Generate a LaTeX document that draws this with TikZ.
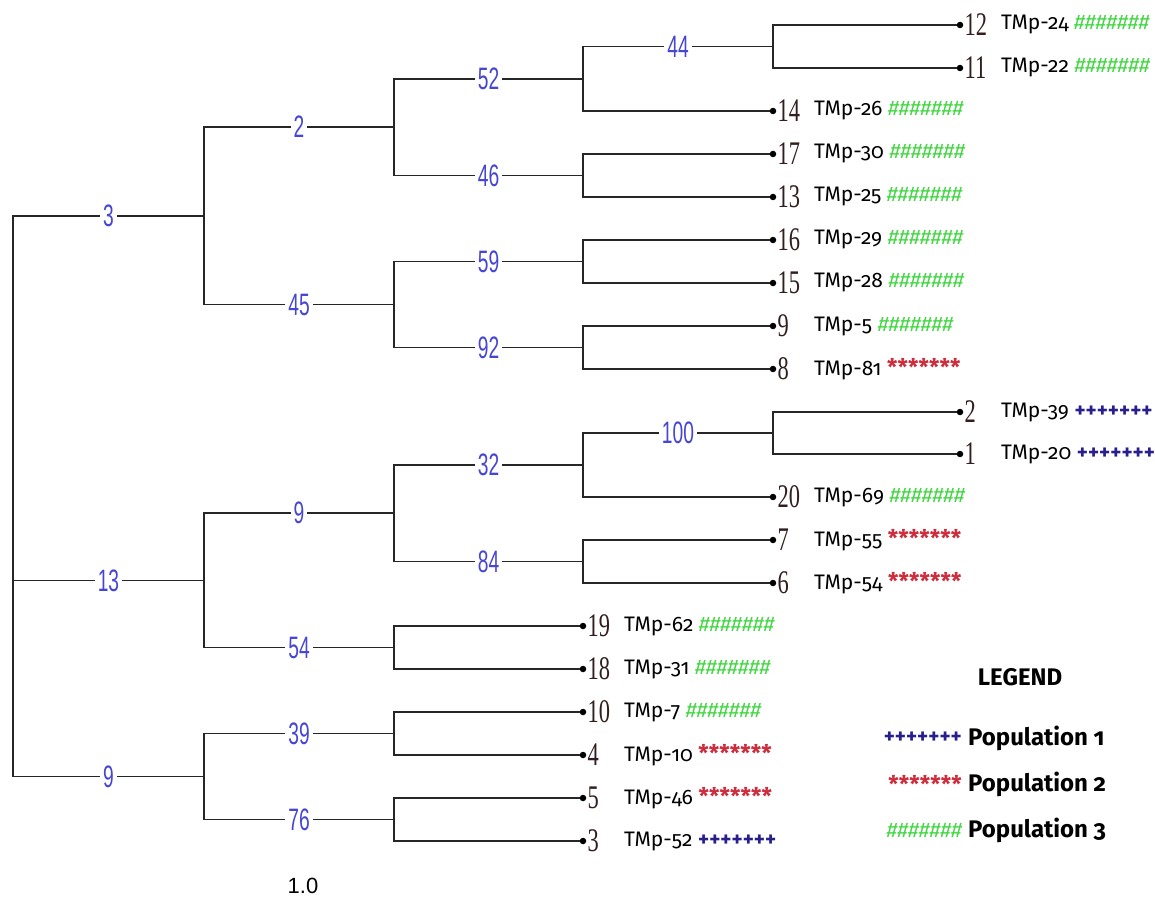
\documentclass[tikz,border=0pt]{standalone}
\usepackage{fontspec}
\setmainfont{Fira Sans}[Numbers=OldStyle]
\newfontfamily\numfont{Liberation Serif}
\newfontfamily\labfont{Liberation Sans}
\usetikzlibrary{positioning}

\definecolor{brblue}{RGB}{70,70,210}
\definecolor{leafbrown}{RGB}{50,30,30}
\definecolor{popblue}{RGB}{40,30,140}
\definecolor{popred}{RGB}{205,45,60}
\definecolor{popgreen}{RGB}{70,215,70}

\newcommand\plusrow{\textcolor{popblue}{\fontseries{sb}\selectfont+++++++}}
\newcommand\starrow{\textcolor{popred}{\bfseries\fontsize{23}{23}\selectfont*******}}
\newcommand\hashrow{\textcolor{popgreen}{\itshape\#\#\#\#\#\#\#}}
\newcommand\brlab[1]{\scalebox{0.62}[1]{#1}}

\tikzset{
  branch/.style={draw=black!85,line width=1.8pt},
  blab/.style={pos=.75,fill=white,text=brblue,inner sep=0pt,inner xsep=3pt,
    font=\labfont\fontsize{31}{31}\selectfont},
  leafdot/.style={circle,fill=black,inner sep=0pt,minimum size=6.5pt},
  leafnum/.style={inner sep=0pt,text=leafbrown,font=\numfont\fontsize{33}{33}\selectfont},
  tmplab/.style={anchor=west,inner sep=0pt,font=\fontsize{21}{21}\selectfont},
}

\begin{document}
\begin{tikzpicture}[x=1pt,y=-1pt]
\useasboundingbox (0,0) rectangle (1155,901);
% inner nodes of the tree
\coordinate (root) at (13,580);
\coordinate (c3) at (204,215.8);
\coordinate (c2) at (394,127.1);
\coordinate (c52) at (583,78.75);
\coordinate (c44) at (773,46.5);
\coordinate (c46) at (583,175.5);
\coordinate (c45) at (394,304.5);
\coordinate (c59) at (583,261.5);
\coordinate (c92) at (583,347.5);
\coordinate (c13) at (204,580.4);
\coordinate (c9a) at (394,513.25);
\coordinate (c32) at (583,465);
\coordinate (c100) at (773,433);
\coordinate (c84) at (583,561.5);
\coordinate (c54) at (394,647.5);
\coordinate (c9b) at (204,776.5);
\coordinate (c39) at (394,733.5);
\coordinate (c76) at (394,819.5);

% leaves
\foreach \lf/\lx/\ly/\txt/\pop in {
  12/960/25/TMp-24/\hashrow, 11/960/68/TMp-22/\hashrow,
  14/773/111/TMp-26/\hashrow, 17/773/154/TMp-30/\hashrow,
  13/773/197/TMp-25/\hashrow, 16/773/240/TMp-29/\hashrow,
  15/773/283/TMp-28/\hashrow, 9/773/326/TMp-5/\hashrow,
  8/773/369/TMp-81/\starrow, 2/960/412/TMp-39/\plusrow,
  1/960/454/TMp-20/\plusrow, 20/773/497/TMp-69/\hashrow,
  7/773/540/TMp-55/\starrow, 6/773/583/TMp-54/\starrow,
  19/583/626/TMp-62/\hashrow, 18/583/669/TMp-31/\hashrow,
  10/583/712/TMp-7/\hashrow, 4/583/755/TMp-10/\starrow,
  5/583/798/TMp-46/\starrow, 3/583/841/TMp-52/\plusrow}{
  \node[leafdot] (t\lf) at (\lx,\ly) {};
  \node[leafnum,right=1pt of t\lf] (n\lf) {\scalebox{0.68}[1]{\lf}};
  \node[tmplab] (m\lf) at ([xshift=41pt]t\lf.center) {\txt\ \pop};
}

% branches
\draw[branch] (root) |- node[blab] (b3) {\brlab{3}} (c3);
\draw[branch] (root) |- node[blab] (b13) {\brlab{13}} (c13);
\draw[branch] (root) |- node[blab] (b9b) {\brlab{9}} (c9b);
\draw[branch] (c3) |- node[blab] (b2) {\brlab{2}} (c2);
\draw[branch] (c3) |- node[blab] (b45) {\brlab{45}} (c45);
\draw[branch] (c2) |- node[blab] (b52) {\brlab{52}} (c52);
\draw[branch] (c2) |- node[blab] (b46) {\brlab{46}} (c46);
\draw[branch] (c52) |- node[blab] (b44) {\brlab{44}} (c44);
\draw[branch] (c52) |- (t14);
\draw[branch] (c44) |- (t12);
\draw[branch] (c44) |- (t11);
\draw[branch] (c46) |- (t17);
\draw[branch] (c46) |- (t13);
\draw[branch] (c45) |- node[blab] (b59) {\brlab{59}} (c59);
\draw[branch] (c45) |- node[blab] (b92) {\brlab{92}} (c92);
\draw[branch] (c59) |- (t16);
\draw[branch] (c59) |- (t15);
\draw[branch] (c92) |- (t9);
\draw[branch] (c92) |- (t8);
\draw[branch] (c13) |- node[blab] (b9a) {\brlab{9}} (c9a);
\draw[branch] (c13) |- node[blab] (b54) {\brlab{54}} (c54);
\draw[branch] (c9a) |- node[blab] (b32) {\brlab{32}} (c32);
\draw[branch] (c9a) |- node[blab] (b84) {\brlab{84}} (c84);
\draw[branch] (c32) |- node[blab] (b100) {\brlab{100}} (c100);
\draw[branch] (c32) |- (t20);
\draw[branch] (c100) |- (t2);
\draw[branch] (c100) |- (t1);
\draw[branch] (c84) |- (t7);
\draw[branch] (c84) |- (t6);
\draw[branch] (c54) |- (t19);
\draw[branch] (c54) |- (t18);
\draw[branch] (c9b) |- node[blab] (b39) {\brlab{39}} (c39);
\draw[branch] (c9b) |- node[blab] (b76) {\brlab{76}} (c76);
\draw[branch] (c39) |- (t10);
\draw[branch] (c39) |- (t4);
\draw[branch] (c76) |- (t5);
\draw[branch] (c76) |- (t3);

% scale
\node[font=\labfont\fontsize{22}{22}\selectfont] (scale) at (303,886) {1.0};

% legend
\node[font=\bfseries\fontsize{24}{24}\selectfont] (legend) at (1020,677) {LEGEND};
\node[anchor=east,inner sep=0pt,font=\fontsize{21}{21}\selectfont] (k1) at (962,738) {\plusrow};
\node[anchor=west,inner sep=0pt,font=\bfseries\fontsize{24}{24}\selectfont] (p1) at (968,738) {Population 1};
\node[anchor=east,inner sep=0pt,font=\fontsize{21}{21}\selectfont] (k2) at (962,784) {\starrow};
\node[anchor=west,inner sep=0pt,font=\bfseries\fontsize{24}{24}\selectfont] (p2) at (968,784) {Population 2};
\node[anchor=east,inner sep=0pt,font=\fontsize{21}{21}\selectfont] (k3) at (962,830) {\hashrow};
\node[anchor=west,inner sep=0pt,font=\bfseries\fontsize{24}{24}\selectfont] (p3) at (968,830) {Population 3};
\end{tikzpicture}
\end{document}
